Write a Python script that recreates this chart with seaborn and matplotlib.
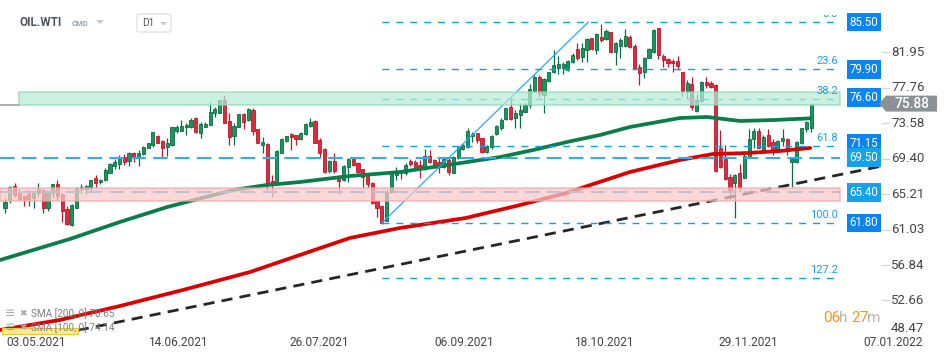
import matplotlib
matplotlib.use("Agg")
import matplotlib.pyplot as plt
import matplotlib.transforms as mtransforms
from matplotlib.patches import Polygon, Rectangle, FancyBboxPatch
import numpy as np
import pandas as pd
import seaborn as sns

# daily candles, OIL.WTI D1
opens = [63.57, 64.5, 66.2, 65.3, 64.98, 65.22, 64.71, 65.37, 65.69, 63.6,
         65.3, 66.36, 65.22, 63.41, 61.56, 63.53, 65.77, 65.8, 65.93, 67.07,
         66.6, 66.87, 67.73, 68.5, 68.75, 69.55, 69.14, 70.1, 69.6, 69.93,
         70.68, 71.0, 72.0, 71.47, 70.72, 71.0, 72.68, 72.68, 73.08, 73.08,
         74.14, 72.45, 73.15, 73.35, 74.8, 74.8, 76.3, 73.86, 72.06, 73.15,
         74.65, 73.94, 75.12, 72.85, 71.0, 71.1, 66.7, 66.4, 70.1, 71.5,
         72.3, 72.17, 71.66, 72.26, 73.27, 73.86, 71.58, 70.49, 67.93, 69.1,
         67.34, 66.87, 68.37, 69.3, 68.9, 68.13, 67.46, 66.48, 64.43, 63.8,
         62.07, 65.49, 67.46, 67.93, 67.66, 69.1, 69.03, 68.64, 68.13, 69.73,
         69.22, 69.03, 68.37, 69.22, 67.73, 69.43, 70.49, 70.72, 72.06, 72.37,
         71.8, 70.2, 70.8, 72.26, 73.04, 74.06, 75.45, 74.22, 74.53, 74.92,
         75.71, 77.36, 79.05, 76.9, 78.54, 79.57, 80.04, 80.1, 79.84, 80.75,
         82.32, 81.41, 82.2, 83.58, 82.2, 83.77, 83.5, 84.29, 82.0, 82.7,
         82.7, 83.77, 82.71, 80.23, 79.57, 81.29, 81.93, 84.76, 81.53, 81.14,
         80.9, 80.9, 79.57, 77.36, 78.15, 75.0, 76.18, 78.46, 78.27, 78.07,
         70.68, 69.35, 67.26, 66.48, 67.66, 67.14, 69.6, 71.7, 72.65, 70.29,
         72.17, 71.31, 70.29, 71.47, 71.7, 68.96, 69.03, 71.2, 72.88, 72.96]
highs = [64.75, 66.16, 66.55, 65.77, 65.1, 65.69, 65.49, 66.48, 65.77, 65.37,
         66.36, 66.87, 65.3, 63.8, 64.0, 66.08, 66.36, 66.3, 66.87, 67.46,
         67.0, 68.25, 68.9, 69.3, 69.82, 69.93, 70.2, 70.2, 70.4, 70.88,
         71.25, 72.57, 72.14, 71.6, 71.8, 73.15, 73.35, 74.0, 73.55, 74.14,
         74.33, 73.74, 73.74, 76.1, 75.5, 76.35, 76.9, 74.73, 73.55, 74.7,
         74.8, 75.33, 75.33, 72.9, 71.97, 71.2, 67.46, 70.4, 71.78, 72.1,
         72.37, 72.2, 72.57, 73.55, 74.14, 73.94, 71.8, 70.68, 69.2, 70.0,
         67.46, 68.64, 69.43, 69.43, 69.03, 68.2, 67.54, 66.67, 64.5, 63.92,
         65.69, 67.85, 68.37, 68.05, 68.83, 69.3, 69.22, 69.22, 70.49, 70.4,
         69.35, 69.6, 69.6, 69.43, 69.7, 70.88, 71.11, 72.96, 72.57, 72.45,
         71.86, 71.0, 72.2, 73.35, 74.14, 75.4, 76.5, 75.1, 75.9, 75.9,
         78.15, 79.25, 79.25, 78.86, 79.64, 82.2, 81.53, 80.75, 81.02, 81.81,
         82.99, 82.99, 83.58, 83.65, 84.17, 85.23, 84.67, 84.36, 83.1, 83.58,
         84.67, 83.97, 82.87, 80.51, 81.41, 82.47, 84.67, 84.83, 81.69, 81.29,
         81.1, 81.53, 79.64, 78.66, 79.05, 76.97, 78.54, 79.05, 78.54, 78.15,
         72.76, 71.0, 67.54, 67.54, 68.72, 69.9, 72.88, 72.96, 73.04, 72.17,
         72.88, 71.7, 71.58, 72.88, 71.86, 69.5, 71.47, 73.04, 73.82, 76.0]
lows = [62.98, 64.2, 64.83, 64.5, 63.83, 63.83, 63.6, 64.9, 63.0, 63.25,
        64.78, 64.5, 61.95, 61.56, 61.44, 63.53, 65.37, 65.22, 65.37, 66.08,
        66.4, 66.8, 67.66, 68.13, 68.13, 68.64, 68.5, 69.03, 68.5, 69.82,
        70.6, 70.72, 71.2, 69.43, 69.7, 70.9, 72.45, 72.68, 72.17, 72.96,
        72.45, 71.8, 73.08, 73.35, 74.33, 74.73, 73.55, 71.0, 71.0, 73.08,
        72.84, 73.86, 72.17, 71.2, 70.1, 65.5, 64.9, 66.28, 70.02, 71.39,
        70.4, 71.0, 71.58, 72.17, 73.15, 71.2, 69.43, 67.73, 67.66, 67.66,
        65.22, 66.8, 66.67, 68.52, 67.73, 65.89, 66.08, 64.04, 62.47, 61.68,
        62.03, 65.37, 66.87, 66.95, 67.46, 68.52, 68.37, 67.07, 68.05, 68.9,
        68.25, 67.66, 68.25, 67.46, 67.66, 69.3, 70.4, 70.6, 71.39, 71.27,
        70.1, 70.0, 70.5, 72.17, 72.76, 73.94, 74.0, 73.04, 73.04, 74.85,
        75.33, 77.28, 76.7, 74.8, 78.46, 79.45, 79.33, 79.33, 79.72, 80.63,
        81.02, 80.82, 80.75, 82.2, 81.69, 83.18, 83.38, 81.81, 80.43, 81.29,
        82.59, 82.47, 79.96, 78.07, 78.86, 81.22, 81.81, 81.14, 80.23, 80.23,
        79.57, 79.84, 76.81, 76.42, 75.12, 74.85, 76.03, 77.75, 77.75, 67.78,
        68.32, 66.87, 64.63, 62.42, 65.49, 67.07, 69.5, 70.68, 70.6, 70.2,
        70.8, 69.82, 70.2, 70.9, 69.82, 66.08, 68.83, 71.08, 72.5, 72.5]
closes = [64.27, 66.08, 65.1, 64.63, 64.63, 64.63, 65.37, 65.77, 63.6, 65.3,
          66.36, 64.98, 63.25, 61.68, 63.92, 65.96, 66.0, 66.16, 66.87, 66.48,
          66.9, 68.05, 68.75, 69.0, 69.43, 69.03, 70.02, 69.43, 70.1, 70.72,
          71.2, 72.5, 71.27, 70.6, 71.27, 73.08, 73.08, 73.23, 73.35, 73.94,
          72.57, 73.47, 73.47, 74.92, 75.2, 76.3, 73.63, 71.97, 73.23, 74.65,
          73.74, 75.2, 72.68, 71.27, 71.4, 66.28, 66.35, 70.29, 71.66, 72.06,
          71.97, 71.7, 72.45, 73.44, 73.74, 71.27, 70.02, 67.85, 69.1, 67.93,
          66.8, 68.52, 69.3, 68.64, 67.85, 67.26, 66.4, 64.12, 63.53, 61.76,
          65.49, 67.66, 67.85, 67.66, 68.64, 68.75, 68.44, 68.13, 69.73, 69.03,
          68.75, 68.37, 69.3, 67.85, 69.55, 70.72, 71.0, 72.68, 72.3, 71.58,
          70.2, 70.9, 72.1, 73.24, 73.94, 75.33, 74.06, 74.73, 75.1, 75.71,
          77.6, 79.05, 77.09, 78.74, 79.57, 80.43, 80.51, 80.51, 80.9, 81.61,
          81.29, 82.4, 83.5, 82.32, 84.05, 83.38, 84.44, 81.93, 82.99, 83.38,
          83.89, 82.59, 80.04, 79.45, 81.22, 82.28, 84.56, 81.61, 81.02, 80.63,
          80.63, 80.35, 77.36, 78.27, 75.51, 76.3, 78.46, 78.07, 77.87, 67.93,
          68.44, 66.99, 65.49, 67.46, 65.96, 69.73, 71.7, 72.65, 70.68, 71.97,
          70.92, 70.29, 71.47, 71.86, 70.68, 69.35, 71.39, 72.96, 73.67, 75.88]

# moving averages (candle index, value)
sma200_idx = [-1.05, 11.5, 24.1, 37.3, 51.4, 61.8, 72.3, 82.8, 96.6, 108.0,
              117.6, 131.0, 141.5, 148.4, 155.6, 162.5, 168.8]
sma200_val = [49.18, 50.36, 52.01, 53.9, 56.02, 58.02, 60.03, 61.21, 62.39, 63.92,
              65.33, 67.81, 69.23, 69.93, 70.05, 70.29, 70.65]
sma100_idx = [-1.05, 13.6, 24.1, 34.0, 47.8, 54.9, 61.8, 72.3, 82.8, 96.9,
              103.8, 110.7, 117.8, 124.7, 131.0, 141.5, 147.2, 154.1, 161.0, 168.8]
sma100_val = [57.43, 59.91, 61.92, 63.68, 65.69, 66.28, 66.63, 67.34, 67.81, 68.99,
              69.58, 70.4, 71.35, 72.17, 73.12, 74.18, 74.3, 73.83, 73.94, 74.14]

# drawings
trend_idx = [11.5, 183.9]
trend_val = [48.71, 68.52]
fib_idx = [79.0, 122.3]
fib_low, fib_high = 61.80, 85.50
fib_ratios = [0.0, 23.6, 38.2, 61.8, 100.0, 127.2]
zone_green = (75.70, 77.25)
zone_red = (64.40, 65.95)
level_lines = [69.50, 65.40]

tag_values = [85.50, 79.90, 76.60, 71.15, 69.50, 65.40, 61.80]
tag_colors = ['#0a84f0', '#0a84f0', '#0a84f0', '#0a84f0', '#14a2ea', '#14a2ea', '#0a84f0']
last_price = 75.88
axis_ticks = [81.95, 77.76, 73.58, 69.40, 65.21, 61.03, 56.84, 52.66, 48.47]
date_labels = ['03.05.2021', '14.06.2021', '26.07.2021', '06.09.2021',
               '18.10.2021', '29.11.2021', '07.01.2022']
date_pos = [6.5, 36.3, 65.8, 96.2, 125.6, 155.9, 186.2]

sns.set_theme(style='white')
plt.rcParams['font.family'] = ['Roboto', 'DejaVu Sans']

W, H = 950, 361
fig = plt.figure(figsize=(W / 100, H / 100), dpi=100)
ax = fig.add_axes([0, (H - 336) / H, 882 / W, (336 - 15) / H])
ax.set_xlim(-1.05, 183.86)
ax.set_ylim(48.47, 86.33)
ax.axis('off')

df = pd.DataFrame({'open': opens, 'high': highs, 'low': lows, 'close': closes})
df['idx'] = np.arange(len(df))
up = df['close'] >= df['open']

# candles
for mask, face, edge in [(up, '#17975f', '#0b6b40'), (~up, '#e02a3c', '#b51b2b')]:
    d = df[mask]
    ax.vlines(d['idx'], d['low'], d['high'], color=edge, lw=0.9, zorder=2)
    bottom = np.minimum(d['open'], d['close'])
    height = (d['close'] - d['open']).abs().clip(lower=0.08)
    ax.bar(d['idx'], height, bottom=bottom, width=0.66, color=face,
           edgecolor=edge, linewidth=0.6, zorder=2.2)

# moving averages
sma100 = pd.DataFrame({'x': sma100_idx, 'y': sma100_val})
sma200 = pd.DataFrame({'x': sma200_idx, 'y': sma200_val})
sns.lineplot(data=sma100, x='x', y='y', ax=ax, color='#0b7d4b', lw=2.7,
             sort=False, zorder=3)
sns.lineplot(data=sma200, x='x', y='y', ax=ax, color='#d90000', lw=2.7,
             sort=False, zorder=3)
ax.axis('off')

# trend line
ax.plot(trend_idx, trend_val, color='#262626', lw=2, dashes=(4, 2.6), zorder=3.5)

# horizontal levels across the chart
x_end = 175.0
for v in level_lines:
    ax.plot([-1.05, x_end], [v, v], color='#34abef', lw=1.5, dashes=(7, 3.5), zorder=3.4)

# fibonacci
ax.plot(fib_idx, [fib_low, fib_high], color='#2aa8f2', lw=0.9, zorder=3.6)
for r in fib_ratios:
    lv = fib_high - r / 100 * (fib_high - fib_low)
    ax.plot([fib_idx[0], x_end], [lv, lv], color='#0aa0f5', lw=1.0, dashes=(5, 5), zorder=3.6)
    lab = ax.annotate(f"{r:.1f}", xy=(x_end, lv), xytext=(-2, 3), textcoords='offset pixels',
                      ha='right', va='bottom', fontsize=8, color='#1e9cf0', zorder=6,
                      annotation_clip=False)
    lab.set_clip_box(ax.bbox)
    lab.set_clip_on(True)

# zones on top (semi transparent)
ax.add_patch(Rectangle((2.9, zone_green[0]), x_end - 2.9, zone_green[1] - zone_green[0],
                       fc='#b8ebd7', ec='#86d9b4', lw=1.1, alpha=0.72, zorder=4))
ax.plot([-1.05, 2.9], [zone_green[0], zone_green[0]], color='#999999', lw=1.1, zorder=4)
ax.add_patch(Rectangle((-1.05, zone_red[0]), x_end + 1.05, zone_red[1] - zone_red[0],
                       fc='#f9caca', ec='#f4a3a3', lw=1.1, alpha=0.72, zorder=4))

# price tags
for v, c in zip(tag_values, tag_colors):
    ax.annotate(f"{v:.2f}", xy=(1, v), xycoords=('axes fraction', 'data'),
                xytext=(-18, 0), textcoords='offset pixels', ha='center', va='center',
                color='white', fontsize=8.3, zorder=7, annotation_clip=False,
                bbox=dict(boxstyle='square,pad=0.25', fc=c, ec='none'))

# right axis labels
tr = mtransforms.blended_transform_factory(ax.transAxes, ax.transData)
for v in axis_ticks[:-1]:
    ax.plot([1.0, 1.0075], [v, v], transform=tr, color='#d5d5d5', lw=0.9, clip_on=False)
    ax.annotate(f"{v:.2f}", xy=(1, v), xycoords=('axes fraction', 'data'),
                xytext=(9, 0), textcoords='offset pixels', ha='left', va='center',
                color='#444444', fontsize=9.5, annotation_clip=False)
ax.annotate(f"{axis_ticks[-1]:.2f}", xy=(1, axis_ticks[-1]), xycoords=('axes fraction', 'data'),
            xytext=(9, 1), textcoords='offset pixels', ha='left', va='bottom',
            color='#444444', fontsize=9.5, annotation_clip=False)

# date labels
for p, lab in zip(date_pos, date_labels):
    ax.annotate(lab, xy=(p, 0), xycoords=('data', 'axes fraction'), xytext=(0, -7),
                textcoords='offset pixels', ha='center', va='center',
                color='#444444', fontsize=8.6, annotation_clip=False)

# last price tag
fig.canvas.draw()
yc = ax.transData.transform((0, last_price))[1]
tag = Polygon([(879, yc), (886, yc + 8), (937, yc + 8), (937, yc - 8), (886, yc - 8)],
              closed=True, fc='#8a9297', ec='none', transform=mtransforms.IdentityTransform())
fig.add_artist(tag)
fig.text(911.5 / W, yc / H, f"{last_price:.2f}", ha='center', va='center',
         color='white', fontsize=9.8, fontweight='medium')

# header
fig.text(20 / W, 1 - 23 / H, 'OIL.WTI', ha='left', va='center', fontsize=8.5,
         fontweight='bold', color='#4d555c')
fig.text(72 / W, 1 - 24 / H, 'CMD', ha='left', va='center', fontsize=5.5,
         fontweight='bold', color='#90a3b3')
fig.add_artist(Polygon([(96, H - 20), (104, H - 20), (100, H - 24)], closed=True,
                       fc='#c8c8c8', ec='none', transform=mtransforms.IdentityTransform()))
fig.add_artist(FancyBboxPatch((137, H - 32), 34, 18, boxstyle='round,pad=0,rounding_size=2',
                              fc='white', ec='#dcdcdc', lw=0.8,
                              transform=mtransforms.IdentityTransform()))
fig.text(142 / W, 1 - 23 / H, 'D1', ha='left', va='center', fontsize=7.2, color='#555555')
fig.add_artist(Polygon([(160, H - 22), (167, H - 22), (163.5, H - 25.5)], closed=True,
                       fc='#c8c8c8', ec='none', transform=mtransforms.IdentityTransform()))

# indicator legend
fig.add_artist(Rectangle((2, H - 334), 76, 6, fc='#fbe7a0', ec='#f0c832', lw=0.8,
                         transform=mtransforms.IdentityTransform(), zorder=5))
for yy, txt in [(314, 'SMA [200, 0] 70.65'), (328, 'SMA [100, 0] 74.14')]:
    fig.text(5 / W, 1 - yy / H, '\u2261', ha='left', va='center', fontsize=9,
             color='#a8a8a8', family='DejaVu Sans', zorder=6)
    fig.text(19 / W, 1 - yy / H, '\u2716', ha='left', va='center', fontsize=6.5,
             color='#a8a8a8', family='DejaVu Sans', zorder=6)
    fig.text(31 / W, 1 - yy / H, txt, ha='left', va='center', fontsize=7.2,
             color='#7f7f7f', zorder=6)

# session timer
for px, s, c in [(823, '06', '#f7941d'), (838.5, 'h', '#b5b5b5'),
                 (851, '27', '#f7941d'), (866.5, 'm', '#b5b5b5')]:
    fig.text(px / W, 1 - 318 / H, s, ha='left', va='center', fontsize=11, color=c)

fig.savefig('out.png', dpi=100)
